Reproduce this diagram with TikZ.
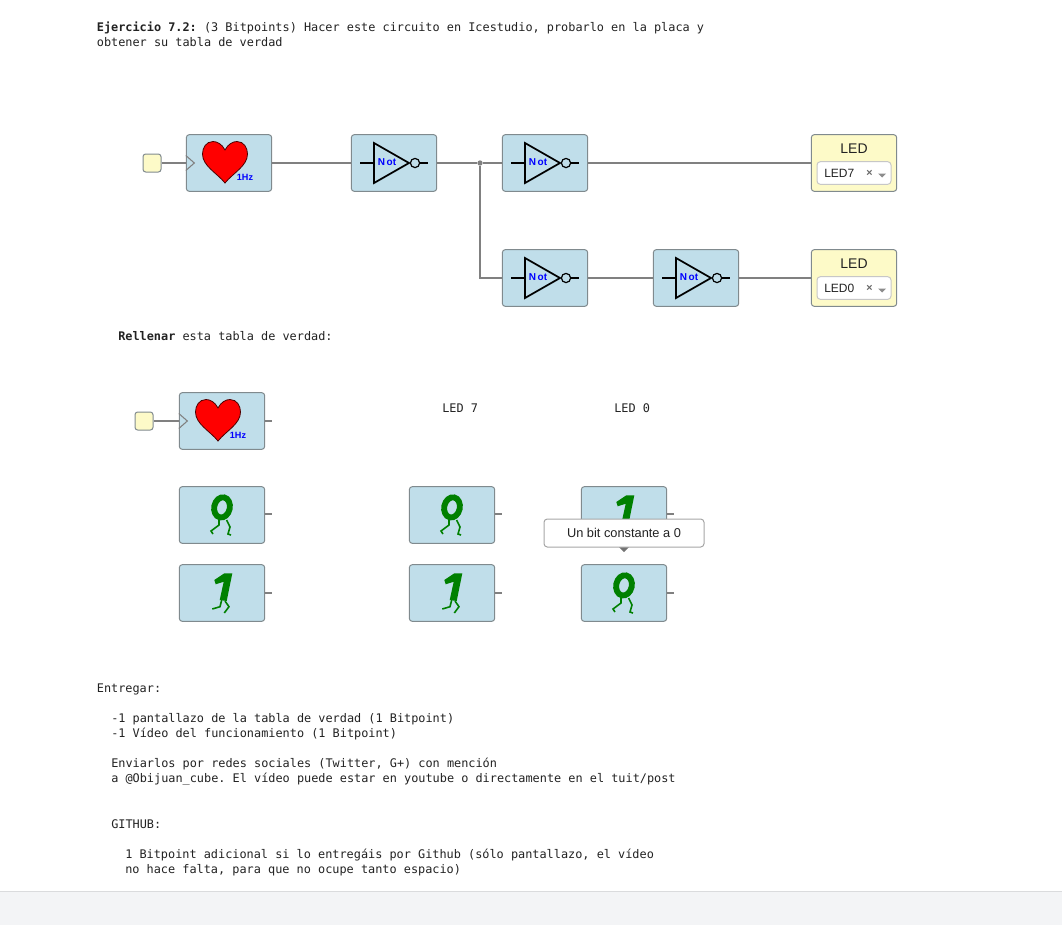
\documentclass[tikz,border=0pt]{standalone}
\usepackage{fontspec}
\setmainfont{Liberation Sans}
\setmonofont{DejaVu Sans Mono}
\usepackage{xcolor}
\usetikzlibrary{positioning}

\definecolor{blockblue}{HTML}{C0DEEA}
\definecolor{ledyellow}{HTML}{FDFAC8}
\definecolor{wiregray}{HTML}{808080}
\definecolor{bordergray}{HTML}{808A8E}
\definecolor{footgray}{HTML}{F3F4F6}
\definecolor{footline}{HTML}{DADBDD}
\definecolor{bitgreen}{HTML}{008000}
\definecolor{inktext}{HTML}{222222}

\tikzset{
  blockbox/.style={draw=bordergray, fill=blockblue, rounded corners=2.2pt, line width=0.75pt, minimum width=64pt, minimum height=42.5pt, inner sep=0pt},
  ledbox/.style={blockbox, fill=ledyellow},
  inbox/.style={draw=bordergray, fill=ledyellow, rounded corners=2pt, line width=0.75pt, minimum width=13.5pt, minimum height=13.5pt, inner sep=0pt},
  selbox/.style={draw=black!22, fill=white, rounded corners=2.5pt, line width=0.75pt, minimum width=55.5pt, minimum height=17pt, inner sep=0pt},
  tipbox/.style={draw=black!35, fill=white, rounded corners=2.5pt, line width=0.75pt, minimum width=120pt, minimum height=21pt, inner sep=0pt, text=inktext, font=\fontsize{9.6}{10}\selectfont},
  wire/.style={draw=wiregray, line width=0.85pt},
  stub/.style={draw=wiregray, line width=0.85pt},
  joint/.style={circle, fill=wiregray, inner sep=0pt, minimum size=4pt},
  txt/.style={anchor=base west, inner sep=0pt, text=inktext, font=\ttfamily\fontsize{8.9}{10}\selectfont},
  heart/.pic={
    \draw[fill=red, draw=black!70!red, line width=0.6pt] (-4,-13) .. controls (-7,-19) and (-12,-21.5) .. (-16,-21.5)
      .. controls (-23,-21.5) and (-26.5,-15) .. (-26.5,-9) .. controls (-26.5,3) and (-12,10) .. (-4,20)
      .. controls (4,10) and (18.5,3) .. (18.5,-9) .. controls (18.5,-15) and (15,-21.5) .. (8,-21.5)
      .. controls (4,-21.5) and (-1,-19) .. (-4,-13) -- cycle;
    \node[inner sep=0pt, text=blue, font=\bfseries\fontsize{6.8}{8}\selectfont] (-hz) at (16,14.5) {1Hz};
  },
  chevron/.pic={
    \draw[draw=wiregray, line width=0.8pt] (0,-7.5) -- (8.5,0) -- (0,7.5);
  },
  notgate/.pic={
    \draw[line width=0.9pt] (-34,0) -- (-20,0);
    \draw[line width=1.3pt, line join=miter] (-20,-20) -- (-20,20) -- (15,0) -- cycle;
    \draw[line width=0.9pt, fill=blockblue] (21,0) circle (4.6);
    \draw[line width=0.9pt] (26,0) -- (34,0);
    \node[inner sep=0pt, text=blue, font=\bfseries\fontsize{7.5}{8}\selectfont] (-lbl) at (-7,-1) {N\kern1.2pt ot};
  },
  zerobit/.pic={
    \draw[bitgreen, line width=4.4pt, shift={(0,-7.6)}, rotate=-12] (0,0) ellipse (7.8 and 10.2);
    \draw[bitgreen, line width=1.2pt] (-3,5) -- (-3,10) -- (-11,16) -- (-9,19);
    \draw[bitgreen, line width=1.2pt] (4.6,5) -- (8,12) -- (6,19) -- (9,20);
  },
  onebit/.pic={
    \fill[bitgreen] (-7.7,-13) -- (2.3,-19.7) -- (10.3,-19.7) -- (4.7,8) -- (-2.3,7) -- (1.7,-11.3) -- (-6.3,-8.7) -- cycle;
    \draw[bitgreen, line width=1.2pt] (-0.3,7) -- (-2,13.7) -- (-9.7,16);
    \draw[bitgreen, line width=1.2pt] (3,8) -- (7,13.7) -- (2.3,20);
  },
  ledsel/.pic={
    \node[selbox] (-sel) at (0,10) {};
    \node[anchor=west, inner sep=0pt, text=inktext, font=\fontsize{9}{10}\selectfont] (-val) at (-30,10) {\ledname};
    \node[inner sep=0pt, text=black!60, font=\bfseries\fontsize{8}{9}\selectfont] (-x) at (15.5,10.5) {×};
    \fill[black!45] (24,10.5) -- (32,10.5) -- (28,14.5) -- cycle;
    \node[inner sep=0pt, text=inktext, font=\fontsize{10.5}{12}\selectfont] (-ttl) at (0,-14.3) {LED};
  },
}

\begin{document}
\begin{tikzpicture}[x=0.75pt, y=-0.75pt]
  \useasboundingbox (0,0) rectangle (1062,925);

  % footer band
  \fill[footgray] (0,892) rectangle (1062,925);
  \draw[footline, line width=0.75pt] (0,891.5) -- (1062,891.5);

  % circuit
  \node[inbox] (in1) at (152,163) {};
  \node[blockbox] (clk1) at (229,163) {};
  \node[blockbox] (not1) at (394,163) {};
  \node[blockbox] (not2) at (545,163) {};
  \node[ledbox] (led7) at (854,163) {};
  \node[blockbox] (not3) at (545,278) {};
  \node[blockbox] (not4) at (696,278) {};
  \node[ledbox] (led0) at (854,278) {};
  \node[joint] (jn) at (480,163) {};

  \draw[wire] (in1) -- (clk1);
  \draw[wire] (clk1) -- (not1);
  \draw[wire] (not1) -- (jn);
  \draw[wire] (jn) -- (not2);
  \draw[wire] (not2) -- (led7);
  \draw[wire] (jn) |- (not3);
  \draw[wire] (not3) -- (not4);
  \draw[wire] (not4) -- (led0);

  \pic at (clk1.west) {chevron};
  \pic (hrt1) at (clk1) {heart};
  \pic (gt1) at (not1) {notgate};
  \pic (gt2) at (not2) {notgate};
  \pic (gt3) at (not3) {notgate};
  \pic (gt4) at (not4) {notgate};
  \def\ledname{LED7}
  \pic (sel7) at (led7) {ledsel};
  \def\ledname{LED0}
  \pic (sel0) at (led0) {ledsel};

  % truth table
  \node[inbox] (in2) at (144,421) {};
  \node[blockbox] (clk2) at (222,421) {};
  \coordinate (c2) at (272,421);
  \draw[wire] (in2) -- (clk2);
  \draw[stub] (clk2) -- (c2);
  \pic at (clk2.west) {chevron};
  \pic (hrt2) at (clk2) {heart};

  \node[blockbox] (a0) at (222,515) {};
  \node[blockbox] (a1) at (222,593) {};
  \node[blockbox] (b0) at (452,515) {};
  \node[blockbox] (b1) at (452,593) {};
  \node[blockbox] (d1) at (624,515) {};
  \node[blockbox] (d0) at (624,593) {};
  \foreach \blk/\px/\py in {a0/272/514, a1/272/593, b0/502/514, b1/502/593, d1/674/514, d0/674/593} {
    \coordinate (\blk end) at (\px,\py);
    \draw[stub] (\blk.east |- \blk end) -- (\blk end);
  }
  \pic at (a0) {zerobit};
  \pic at (b0) {zerobit};
  \pic at (d0) {zerobit};
  \pic at (a1) {onebit};
  \pic at (b1) {onebit};
  \pic at (d1) {onebit};

  % tooltip
  \fill[black!55] (619,547) -- (629,547) -- (624,552) -- cycle;
  \node[tipbox] (tip) at (624,533) {Un bit constante a 0};

  % texts
  \node[txt] (t1) at (96.6,31) {\textbf{Ejercicio 7.2:} (3 Bitpoints) Hacer este circuito en Icestudio, probarlo en la placa y};
  \node[txt] (t2) at (96.6,46) {obtener su tabla de verdad};
  \node[txt] (t3) at (118,340) {\textbf{Rellenar} esta tabla de verdad:};
  \node[txt] (t4) at (442,412) {LED 7};
  \node[txt] (t5) at (614,412) {LED 0};
  \node[txt] (t6) at (96.6,692) {Entregar:};
  \node[txt] (t7) at (111,722) {-1 pantallazo de la tabla de verdad (1 Bitpoint)};
  \node[txt] (t8) at (111,737) {-1 Vídeo del funcionamiento (1 Bitpoint)};
  \node[txt] (t9) at (111,767) {Enviarlos por redes sociales (Twitter, G+) con mención};
  \node[txt] (t10) at (111,782) {a @Obijuan\_cube. El vídeo puede estar en youtube o directamente en el tuit/post};
  \node[txt] (t11) at (111,828) {GITHUB:};
  \node[txt] (t12) at (125,858) {1 Bitpoint adicional si lo entregáis por Github (sólo pantallazo, el vídeo};
  \node[txt] (t13) at (125,873) {no hace falta, para que no ocupe tanto espacio)};
\end{tikzpicture}
\end{document}
